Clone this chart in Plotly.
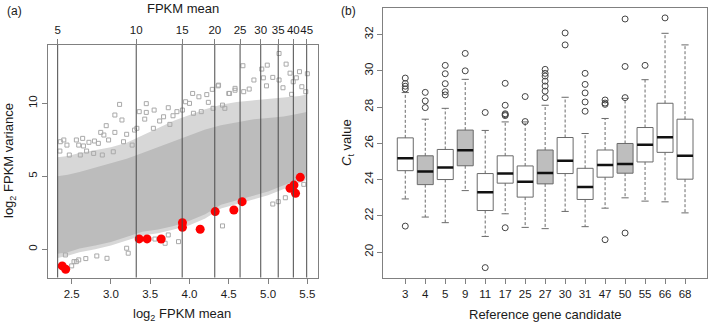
import math
import plotly.graph_objects as go

W, H = 709, 324

# ---------------- Panel (a) data ----------------
fpkm_ticks = [5, 10, 15, 20, 25, 30, 35, 40, 45]
log2_ticks = [2.5, 3.0, 3.5, 4.0, 4.5, 5.0, 5.5]
var_ticks = [0, 5, 10]

# selected reference genes (red)
red_x = [2.38, 2.424, 3.36, 3.46, 3.64, 3.91, 3.91, 4.136, 4.327, 4.565, 4.67, 5.28, 5.33, 5.35, 5.41]
red_y = [-1.14, -1.37, 0.71, 0.71, 0.70, 1.82, 1.50, 1.37, 2.58, 2.69, 3.26, 4.18, 4.40, 3.83, 4.93]

# sparse (outer) genes of the cloud
sparse_x = [3.11, 3.05, 3.14, 2.94, 2.87, 3.05, 2.91, 3.20, 3.30, 3.36, 2.40, 2.355, 2.56, 2.64,
            2.72, 2.79, 2.84, 2.44, 2.59, 2.65, 2.97, 3.16, 2.35, 2.47, 2.69, 2.61, 2.78, 2.89,
            3.03, 3.27, 3.33,
            4.365, 4.29, 4.04, 4.12, 4.22, 3.95, 4.00, 4.24, 4.50, 3.45, 3.73, 3.55, 3.45, 3.84,
            3.91, 3.67, 3.79, 3.43, 3.62, 3.54, 3.75, 4.42, 4.45, 4.05, 4.15, 4.30,
            5.14, 4.68, 4.99, 5.23, 4.92, 5.28, 5.40, 5.50, 4.82, 4.94, 5.06, 5.14, 5.32, 5.36,
            4.58, 4.69, 4.76, 4.98, 5.19, 5.43, 5.48, 5.30, 4.37, 4.51, 4.58,
            2.82, 3.20, 3.22, 2.53, 2.59, 2.42, 3.73, 3.69, 2.95, 4.42, 5.06, 5.13, 5.22, 5.455,
            3.86, 3.56, 2.68, 2.50, 2.56]
sparse_y = [9.93, 9.20, 8.86, 8.47, 8.01, 8.01, 7.83, 7.88, 8.17, 9.43, 7.49, 7.37, 7.49, 7.60,
            7.33, 7.42, 7.26, 7.14, 7.14, 7.08, 7.49, 7.37, 6.73, 6.46, 6.73, 6.46, 6.57, 6.46,
            6.68, 7.14, 8.29,
            11.20, 10.96, 10.68, 10.45, 10.60, 10.11, 10.00, 10.07, 10.68, 9.98, 9.70, 9.54, 9.38, 9.43,
            9.54, 9.08, 9.15, 8.92, 8.79, 8.29, 8.56, 9.88, 9.66, 9.32, 9.43, 9.66,
            13.42, 12.58, 12.62, 12.69, 12.35, 12.07, 12.17, 12.03, 11.60, 11.75, 11.78, 11.60, 11.48, 11.75,
            11.03, 10.80, 10.98, 11.20, 11.07, 11.14, 10.80, 10.62, 11.25, 10.68, 10.90,
            -0.46, 0.07, -0.27, -0.85, -0.73, -0.39, 0.98, 0.41, -0.62, 1.60, 3.10, 3.26, 3.53, 4.45,
            0.52, 0.70, -0.64, -1.14, -0.85]

# envelope of the dense part of the cloud
env_x = [2.32, 2.45, 2.6, 2.8, 3.0, 3.2, 3.4, 3.6, 3.8, 4.0, 4.2, 4.4, 4.6, 4.8, 5.0, 5.2, 5.4, 5.49]
env_lo = [-0.6, -0.45, -0.2, 0.0, 0.25, 0.6, 0.95, 1.1, 1.35, 1.65, 2.1, 2.8, 3.1, 3.4, 3.7, 4.1, 4.55, 4.75]
env_hi = [6.3, 6.4, 6.6, 6.8, 7.0, 7.3, 7.8, 8.3, 8.8, 9.2, 9.6, 9.9, 10.1, 10.2, 10.3, 10.4, 10.5, 10.6]
core_lo = [-0.3, -0.2, 0.05, 0.25, 0.5, 0.85, 1.2, 1.35, 1.6, 1.95, 2.4, 3.05, 3.35, 3.65, 3.95, 4.35, 4.8, 5.0]
core_hi = [5.0, 5.1, 5.3, 5.6, 5.9, 6.2, 6.6, 7.0, 7.4, 7.8, 8.2, 8.5, 8.7, 8.9, 9.0, 9.1, 9.3, 9.4]

# ---------------- Panel (b) data ----------------
genes = ['3', '4', '5', '9', '11', '17', '25', '27', '30', '31', '47', '50', '55', '66', '68']
shaded = [False, True, False, True, False, False, False, True, False, False, False, True, False, False, False]
lo = [22.93, 21.93, 21.62, 23.39, 20.86, 22.11, 21.36, 21.29, 22.24, 21.40, 22.42, 22.99, 22.81, 22.77, 22.16]
q1 = [24.49, 23.72, 24.00, 24.76, 22.29, 23.80, 23.03, 23.76, 24.33, 22.90, 24.13, 24.35, 24.97, 25.50, 24.02]
med = [25.17, 24.45, 24.67, 25.61, 23.30, 24.33, 23.88, 24.36, 25.04, 23.59, 24.80, 24.86, 25.92, 26.34, 25.31]
q3 = [26.30, 25.31, 25.66, 26.73, 24.33, 25.31, 24.75, 25.63, 26.32, 24.62, 25.63, 25.99, 26.87, 28.21, 27.33]
hi = [28.80, 27.33, 27.93, 29.53, 26.71, 27.18, 27.18, 28.10, 28.54, 26.54, 27.37, 28.48, 29.51, 32.07, 31.43]
outliers = [
    [29.6, 29.3, 29.15, 29.0, 21.43],
    [28.81, 28.34, 27.97],
    [30.30, 29.84, 29.29, 28.85, 28.67],
    [30.96, 30.0],
    [27.7, 19.14],
    [29.31, 28.10, 27.63, 27.58, 27.53, 21.34],
    [28.58, 27.2],
    [30.08, 29.86, 29.71, 29.43, 29.16, 28.88, 28.52],
    [32.09, 31.43],
    [29.86, 29.25, 28.78, 28.28, 27.77],
    [28.39, 28.22, 28.15, 20.68],
    [32.86, 30.24, 28.52, 21.05],
    [30.30],
    [32.92],
    [],
]
ct_ticks = [20, 22, 24, 26, 28, 30, 32]

# ---------------- styling ----------------
FONT = "Liberation Sans, Arial, Helvetica, sans-serif"
TXT = "#1a1a1a"
FRAME = "#808080"
xa_range = [2.195, 5.632]
ya_range = [-1.95, 14.0]
xb_range = [-0.1, 16.1]
yb_range = [18.55, 33.45]

fig = go.Figure()

# cloud envelope (outer, lighter)
fig.add_trace(go.Scatter(x=env_x + env_x[::-1], y=env_hi + env_lo[::-1], fill="toself",
                         fillcolor="#d7d7d7", line=dict(width=0), mode="lines",
                         hoverinfo="skip", showlegend=False, xaxis="x", yaxis="y"))
# cloud core (denser)
fig.add_trace(go.Scatter(x=env_x + env_x[::-1], y=core_hi + core_lo[::-1], fill="toself",
                         fillcolor="#bcbcbc", line=dict(width=0), mode="lines",
                         hoverinfo="skip", showlegend=False, xaxis="x", yaxis="y"))
# sparse genes
fig.add_trace(go.Scatter(x=sparse_x, y=sparse_y, mode="markers",
                         marker=dict(symbol="square-open", size=4, color="#a9a9a9", line=dict(width=1)),
                         hoverinfo="skip", showlegend=False, xaxis="x", yaxis="y"))
# vertical FPKM lines
vx, vy = [], []
for v in fpkm_ticks:
    lv = math.log2(v)
    vx += [lv, lv, None]
    vy += [ya_range[0], ya_range[1], None]
fig.add_trace(go.Scatter(x=vx, y=vy, mode="lines", line=dict(color="#4a4a4a", width=1),
                         hoverinfo="skip", showlegend=False, xaxis="x3", yaxis="y"))
# red selected genes
fig.add_trace(go.Scatter(x=red_x, y=red_y, mode="markers",
                         marker=dict(symbol="circle", size=9, color="#ff0000"),
                         hoverinfo="skip", showlegend=False, xaxis="x", yaxis="y"))

# ---------------- Panel (b) boxes ----------------
hw = 0.4
cw = 0.18
wx, wy, cx, cy, mx, my, ox, oy = [], [], [], [], [], [], [], []
for i, g in enumerate(genes):
    x = i + 1
    fig.add_trace(go.Scatter(x=[x - hw, x + hw, x + hw, x - hw, x - hw],
                             y=[q1[i], q1[i], q3[i], q3[i], q1[i]],
                             fill="toself", fillcolor="#bebebe" if shaded[i] else "#ffffff",
                             mode="lines", line=dict(color="#6a6a6a", width=1),
                             hoverinfo="skip", showlegend=False, xaxis="x2", yaxis="y2"))
    wx += [x, x, None, x, x, None]
    wy += [q3[i], hi[i], None, q1[i], lo[i], None]
    cx += [x - cw, x + cw, None, x - cw, x + cw, None]
    cy += [hi[i], hi[i], None, lo[i], lo[i], None]
    mx += [x - hw, x + hw, None]
    my += [med[i], med[i], None]
    for o in outliers[i]:
        ox.append(x)
        oy.append(o)

fig.add_trace(go.Scatter(x=wx, y=wy, mode="lines", line=dict(color="#6a6a6a", width=1, dash="3px,2px"),
                         hoverinfo="skip", showlegend=False, xaxis="x2", yaxis="y2"))
fig.add_trace(go.Scatter(x=cx, y=cy, mode="lines", line=dict(color="#6a6a6a", width=1),
                         hoverinfo="skip", showlegend=False, xaxis="x2", yaxis="y2"))
fig.add_trace(go.Scatter(x=mx, y=my, mode="lines", line=dict(color="#111111", width=2.5),
                         hoverinfo="skip", showlegend=False, xaxis="x2", yaxis="y2"))
fig.add_trace(go.Scatter(x=ox, y=oy, mode="markers",
                         marker=dict(symbol="circle-open", size=6, color="#444444", line=dict(width=1)),
                         hoverinfo="skip", showlegend=False, xaxis="x2", yaxis="y2"))

tickfont = dict(family=FONT, size=11.5, color=TXT)
common = dict(showgrid=False, zeroline=False, ticks="outside", ticklen=5, tickcolor=FRAME,
              tickfont=tickfont, automargin=False)

fig.update_layout(
    width=W, height=H,
    margin=dict(l=0, r=0, t=0, b=0, pad=0),
    paper_bgcolor="white", plot_bgcolor="white",
    showlegend=False,
    font=dict(family=FONT, color=TXT),
    xaxis=dict(domain=[47.7 / W, 317.7 / W], anchor="y", range=xa_range,
               tickvals=log2_ticks, ticktext=["%.1f" % v for v in log2_ticks], tickangle=0,
               showline=True, linecolor=FRAME, linewidth=1, mirror=True, **common),
    yaxis=dict(domain=[46.3 / H, 279 / H], anchor="x", range=ya_range,
               tickvals=var_ticks, ticktext=[str(v) for v in var_ticks], tickangle=-90,
               showline=True, linecolor=FRAME, linewidth=1, mirror=True, **common),
    xaxis3=dict(overlaying="x", side="top", anchor="y", range=xa_range,
                tickvals=[math.log2(v) for v in fpkm_ticks], ticktext=[str(v) for v in fpkm_ticks],
                tickangle=0, showline=False, **common),
    xaxis2=dict(domain=[383.3 / W, 707 / W], anchor="y2", range=xb_range,
                tickvals=list(range(1, len(genes) + 1)), ticktext=genes, tickangle=0,
                showline=True, linecolor=FRAME, linewidth=1, mirror=True, **common),
    yaxis2=dict(domain=[45.7 / H, 315.7 / H], anchor="x2", range=yb_range,
                tickvals=ct_ticks, ticktext=[str(v) for v in ct_ticks], tickangle=-90,
                showline=True, linecolor=FRAME, linewidth=1, mirror=True, **common),
)

def ann(text, px, py, size=13, angle=0):
    fig.add_annotation(text=text, x=px / W, y=1 - py / H, xref="paper", yref="paper",
                       showarrow=False, xanchor="center", yanchor="middle", textangle=angle,
                       font=dict(family=FONT, size=size, color=TXT))

ann("(a)", 15, 11, 12)
ann("(b)", 348, 11, 12)
ann("FPKM mean", 183, 8, 13)
ann("log<sub>2</sub> FPKM mean", 182, 314, 13)
ann("log<sub>2</sub> FPKM variance", 9, 161, 13, -90)
ann("<i>C</i><sub>t</sub> value", 347, 143, 13, -90)
ann("Reference gene candidate", 545, 314, 13)

fig.write_html("out.html", config={"displayModeBar": False, "staticPlot": True},
               post_script="document.body.style.margin='0';document.body.style.overflow='hidden';")
